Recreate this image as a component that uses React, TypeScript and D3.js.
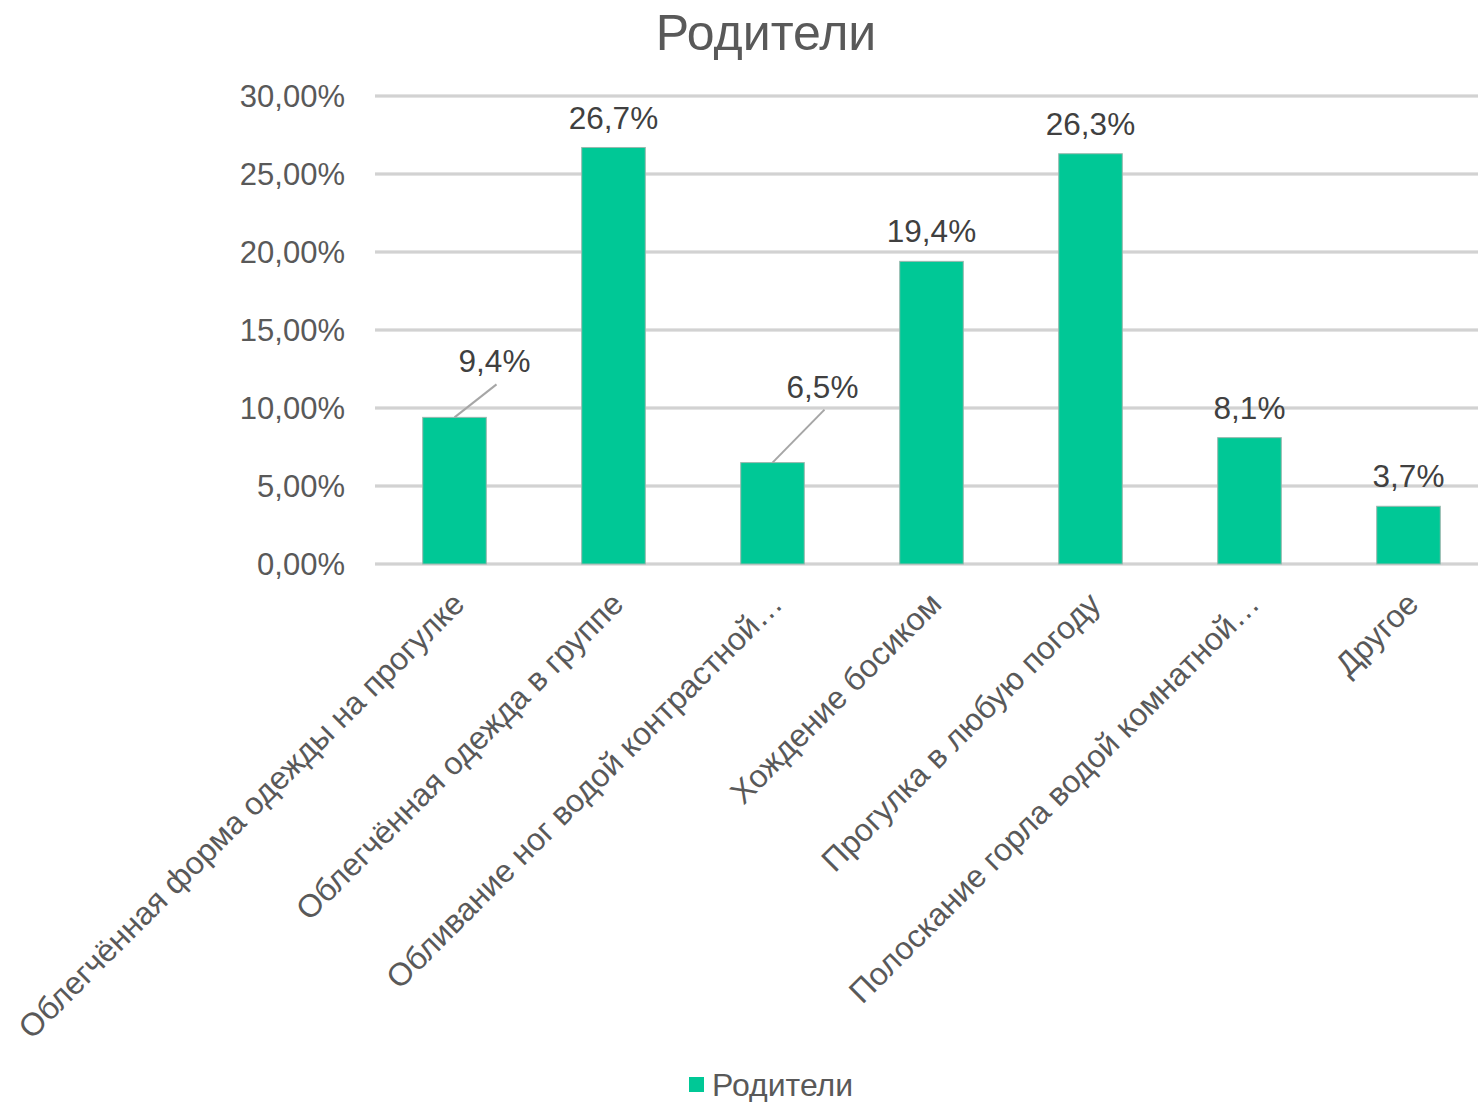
import React from "react";
import * as d3 from "d3";

const categories = [
  "Облегчённая форма одежды на прогулке",
  "Облегчённая одежда в группе",
  "Обливание ног водой контрастной…",
  "Хождение босиком",
  "Прогулка в любую погоду",
  "Полоскание горла водой комнатной…",
  "Другое",
];
const values = [9.4, 26.7, 6.5, 19.4, 26.3, 8.1, 3.7];
const yTicks = [0, 5, 10, 15, 20, 25, 30];
const seriesName = "Родители";
// label offsets for the two labels with leader lines (in px)
const labelShift: { [k: number]: [number, number] } = { 0: [40, -56], 2: [50, -76] };

const W = 1478;
const H = 1102;
const FONT = "'Liberation Sans', Arial, sans-serif";
const BAR = "#00C896";

export default function App() {
  const x = d3
    .scaleBand<string>()
    .domain(categories)
    .range([375, 1488])
    .paddingInner(0.6)
    .paddingOuter(0.3);
  const y = d3.scaleLinear().domain([0, 30]).range([564, 96]);
  const fmtTick = (v: number) => v.toFixed(2).replace(".", ",") + "%";
  const fmtLab = (v: number) => v.toFixed(1).replace(".", ",") + "%";

  return (
    <svg
      width={W}
      height={H}
      style={{ position: "absolute", left: 0, top: 0, background: "#fff" }}
      fontFamily={FONT}
    >
      <text x={766} y={50} textAnchor="middle" fontSize={50} fill="#595959">
        {seriesName}
      </text>
      {yTicks.map((t) => (
        <g key={t}>
          <line x1={375} x2={1478} y1={y(t)} y2={y(t)} stroke="#c8c8c8" strokeWidth={3} />
          <line x1={375} x2={1478} y1={y(t)} y2={y(t)} stroke="#dcdcdc" strokeWidth={1} />
          <text x={345} y={y(t)} dy="0.35em" textAnchor="end" fontSize={31} fill="#595959">
            {fmtTick(t)}
          </text>
        </g>
      ))}
      {categories.map((c, i) => {
        const bx = x(c)!;
        const bw = x.bandwidth();
        const cx = bx + bw / 2;
        const top = y(values[i]);
        const shift = labelShift[i];
        const lx = shift ? cx + shift[0] : cx;
        const ly = shift ? top + shift[1] : top - 30;
        return (
          <g key={c}>
            <rect
              x={bx}
              y={top}
              width={bw}
              height={y(0) - top}
              fill={BAR}
              stroke="#9ab8ae"
              strokeWidth={1}
            />
            {shift && (
              <line
                x1={cx}
                y1={top}
                x2={lx + 2}
                y2={ly + 23}
                stroke="#a6a6a6"
                strokeWidth={2}
              />
            )}
            <text x={lx} y={ly} dy="0.35em" textAnchor="middle" fontSize={31.5} fill="#404040">
              {fmtLab(values[i])}
            </text>
            <text
              transform={`translate(${cx - 4},${590}) rotate(-45)`}
              textAnchor="end"
              dy="0.7em"
              fontSize={32}
              fill="#595959"
            >
              {c}
            </text>
          </g>
        );
      })}
      <rect x={689} y={1077} width={15} height={15} fill={BAR} />
      <text x={712} y={1085} dy="0.35em" fontSize={32} fill="#595959">
        {seriesName}
      </text>
    </svg>
  );
}
